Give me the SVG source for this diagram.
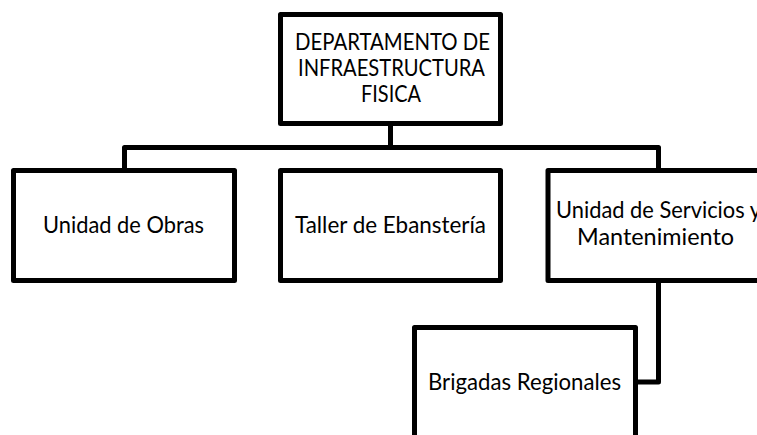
<svg xmlns="http://www.w3.org/2000/svg" width="757" height="435" viewBox="0 0 757 435">
<style>
.box{fill:#fff;stroke:#000;stroke-width:5;stroke-linejoin:round}
.con{fill:none;stroke:#000;stroke-width:5;stroke-linejoin:round}
text{font-family:Lato,"Open Sans","Liberation Sans",sans-serif;font-size:23px;fill:#000;text-anchor:middle}
</style>
<rect width="757" height="435" fill="#fff"/>
<g id="connectors">
<path class="con" d="M124.5,170.5 V147.5 H658.5 V170.5"/>
<path class="con" d="M390.5,123.5 V147.5"/>
<path class="con" d="M658.5,280.5 V382 H635.5"/>
</g>
<g id="n-departamento">
<rect class="box" x="280.5" y="14.5" width="220" height="109"/>
<text x="392.5" y="49.5" textLength="195" lengthAdjust="spacingAndGlyphs">DEPARTAMENTO DE</text>
<text x="391.5" y="75.5" textLength="187" lengthAdjust="spacingAndGlyphs">INFRAESTRUCTURA</text>
<text x="391" y="101.5" textLength="60" lengthAdjust="spacingAndGlyphs">FISICA</text>
</g>
<g id="n-obras">
<rect class="box" x="13.5" y="170.5" width="221" height="110"/>
<text x="123.5" y="233" textLength="161" lengthAdjust="spacingAndGlyphs">Unidad de Obras</text>
</g>
<g id="n-taller">
<rect class="box" x="280.5" y="170.5" width="220" height="110"/>
<text x="390.5" y="233" textLength="191" lengthAdjust="spacingAndGlyphs">Taller de Ebanstería</text>
</g>
<g id="n-servicios">
<rect class="box" x="548" y="170.5" width="221" height="110"/>
<text x="658.5" y="218" textLength="205" lengthAdjust="spacingAndGlyphs">Unidad de Servicios y</text>
<text x="655.5" y="245" textLength="157" lengthAdjust="spacingAndGlyphs">Mantenimiento</text>
</g>
<g id="n-brigadas">
<rect class="box" x="414.5" y="327.5" width="221" height="110"/>
<text x="524.5" y="390" textLength="193" lengthAdjust="spacingAndGlyphs">Brigadas Regionales</text>
</g>
</svg>
